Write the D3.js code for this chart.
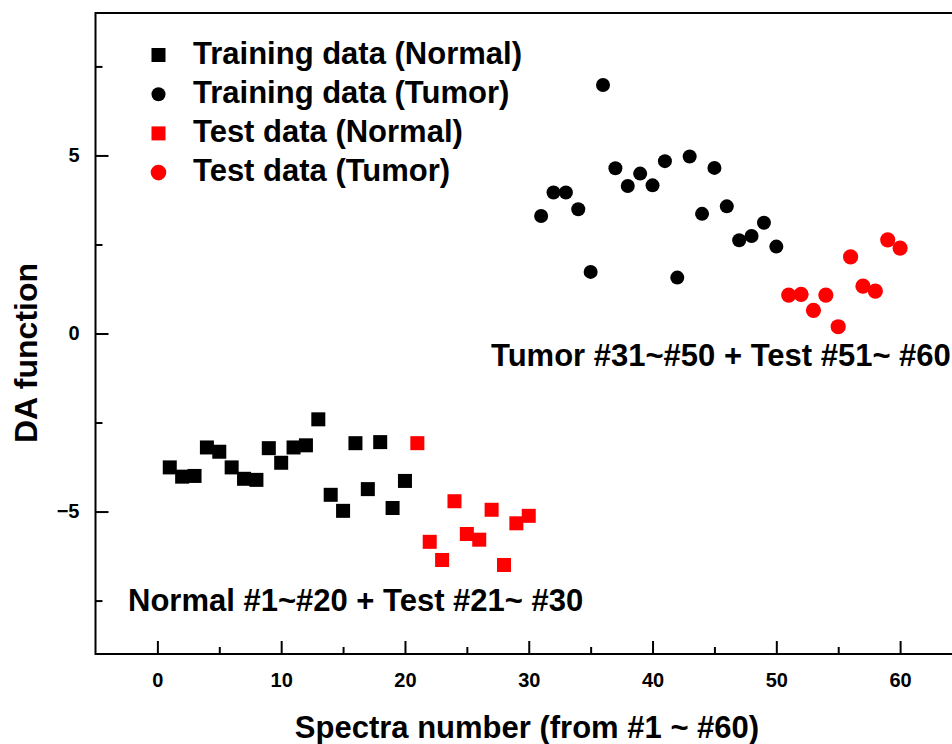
<!DOCTYPE html>
<html>
<head>
<meta charset="utf-8">
<script src="https://cdn.jsdelivr.net/npm/d3@7"></script>
<style>
  html, body { margin: 0; padding: 0; background: #fff; }
  svg text { font-family: "Liberation Sans", Arial, sans-serif; font-weight: bold; fill: #000; }
</style>
</head>
<body>
<svg id="chart" width="952" height="744"></svg>
<script>
// ---- data ----
const normalTrainX = [1,2,3,4,5,6,7,8,9,10,11,12,13,14,15,16,17,18,19,20];
const normalTrainY = [-3.76,-4.02,-4.00,-3.20,-3.32,-3.76,-4.08,-4.11,-3.22,-3.63,-3.20,-3.14,-2.41,-4.53,-4.98,-3.08,-4.37,-3.05,-4.90,-4.14];
const tumorTrainX = [31,32,33,34,35,36,37,38,39,40,41,42,43,44,45,46,47,48,49,50];
const tumorTrainY = [3.30,3.96,3.96,3.49,1.73,6.98,4.64,4.14,4.49,4.16,4.84,1.57,4.97,3.36,4.65,3.57,2.62,2.74,3.11,2.44];
const normalTestX = [21,22,23,24,25,26,27,28,29,30];
const normalTestY = [-3.08,-5.85,-6.36,-4.71,-5.63,-5.79,-4.95,-6.50,-5.33,-5.12];
const tumorTestX = [51,52,53,54,55,56,57,58,59,60];
const tumorTestY = [1.08,1.10,0.65,1.08,0.19,2.15,1.33,1.19,2.63,2.40];

const legendLabels = ["Training data (Normal)","Training data (Tumor)","Test data (Normal)","Test data (Tumor)"];
const xMajorTicks = [0,10,20,30,40,50,60];
const xMinorTicks = [5,15,25,35,45,55,65];
const yMajorTicks = [-5,0,5];
const yMinorTicks = [-7.5,-2.5,2.5,7.5];
const xTitle = "Spectra number (from #1 ~ #60)";
const yTitle = "DA function";
const noteNormal = "Normal #1~#20 + Test #21~ #30";
const noteTumor = "Tumor #31~#50 + Test #51~ #60";

// ---- layout ----
const svg = d3.select("#chart");
const mLeft = 95.5, mRight = 962, mTop = 13, mBottom = 654;
const x = d3.scaleLinear().domain([-5, 65]).range([mLeft, mRight]);
const y = d3.scaleLinear().domain([-9, 9]).range([mBottom, mTop]);

// frame
svg.append("rect").attr("x", mLeft).attr("y", mTop)
  .attr("width", mRight - mLeft).attr("height", mBottom - mTop)
  .attr("fill", "none").attr("stroke", "#000").attr("stroke-width", 2);

function styleAxis(g) {
  g.select(".domain").remove();
  g.selectAll(".tick line").attr("stroke", "#000").attr("stroke-width", 2);
  g.selectAll(".tick text").style("font-size", "20px").attr("fill", "#000");
}

// x axis
svg.append("g").attr("transform", `translate(0,${mBottom})`)
  .call(d3.axisBottom(x).tickValues(xMajorTicks).tickFormat(d3.format("d")).tickSize(-13).tickPadding(19))
  .call(styleAxis);
svg.append("g").attr("transform", `translate(0,${mBottom})`)
  .call(d3.axisBottom(x).tickValues(xMinorTicks).tickFormat("").tickSize(-7))
  .call(styleAxis);

// y axis
svg.append("g").attr("transform", `translate(${mLeft},0)`)
  .call(d3.axisLeft(y).tickValues(yMajorTicks).tickFormat(d3.format("d")).tickSize(-13).tickPadding(16))
  .call(styleAxis);
svg.append("g").attr("transform", `translate(${mLeft},0)`)
  .call(d3.axisLeft(y).tickValues(yMinorTicks).tickFormat("").tickSize(-7))
  .call(styleAxis);

// titles
svg.append("text").attr("x", 527).attr("y", 738).attr("text-anchor", "middle")
  .style("font-size", "31px").text(xTitle);
svg.append("text").attr("transform", "translate(37,353) rotate(-90)").attr("text-anchor", "middle")
  .style("font-size", "32px").text(yTitle);

// data marks
const sq = 14, rc = 7, rcRed = 7.6;
function squares(xs, ys, color) {
  svg.append("g").selectAll("rect").data(xs.map((d, i) => [d, ys[i]])).join("rect")
    .attr("x", d => x(d[0]) - sq / 2).attr("y", d => y(d[1]) - sq / 2)
    .attr("width", sq).attr("height", sq).attr("fill", color);
}
function circles(xs, ys, color, r) {
  svg.append("g").selectAll("circle").data(xs.map((d, i) => [d, ys[i]])).join("circle")
    .attr("cx", d => x(d[0])).attr("cy", d => y(d[1])).attr("r", r).attr("fill", color);
}
squares(normalTrainX, normalTrainY, "#000");
circles(tumorTrainX, tumorTrainY, "#000", rc);
squares(normalTestX, normalTestY, "#ff0000");
circles(tumorTestX, tumorTestY, "#ff0000", rcRed);

// annotations
svg.append("text").attr("x", 128).attr("y", 611).style("font-size", "31px").text(noteNormal);
svg.append("text").attr("x", 491).attr("y", 366).style("font-size", "31px").text(noteTumor);

// legend
const legColors = ["#000", "#000", "#ff0000", "#ff0000"];
const legShapes = ["square", "circle", "square", "circle"];
const leg = svg.append("g");
legendLabels.forEach((lab, i) => {
  const cy = 55 + i * 39.2;
  if (legShapes[i] === "square") {
    leg.append("rect").attr("x", 158.5 - 7).attr("y", cy - 7).attr("width", 14).attr("height", 14).attr("fill", legColors[i]);
  } else {
    leg.append("circle").attr("cx", 158.5).attr("cy", cy).attr("r", i === 3 ? 7.8 : 7).attr("fill", legColors[i]);
  }
  leg.append("text").attr("x", 193).attr("y", cy + 8.5).style("font-size", "31px").text(lab);
});
</script>
</body>
</html>
